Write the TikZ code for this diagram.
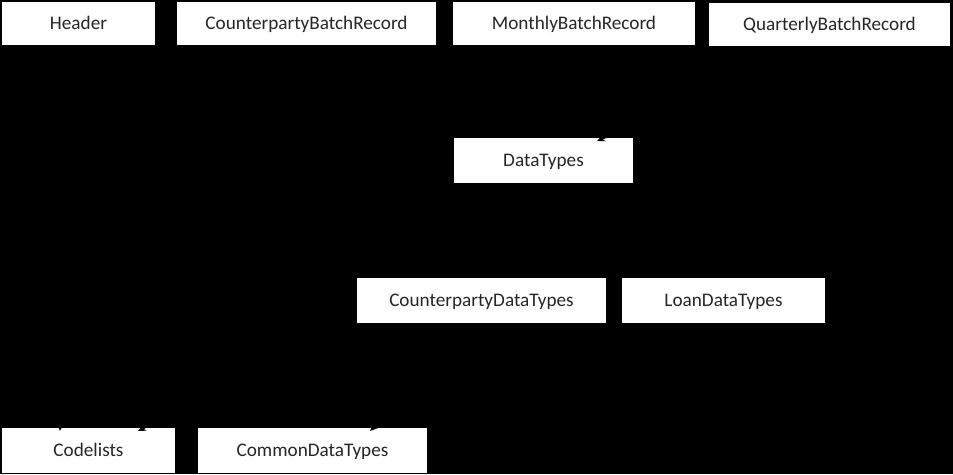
\documentclass[tikz,border=0pt]{standalone}
\usepackage{fontspec}
\setmainfont{Carlito}
\usetikzlibrary{arrows.meta}
\begin{document}
\begin{tikzpicture}[x=1pt,y=-1pt,
  box/.style={draw=none,fill=white,inner sep=0pt,font=\fontsize{19.2}{20}\selectfont,text=black!85,text height=12pt,text depth=0pt},
  hid/.style={draw=black,line width=1.5pt,shorten <=2pt,-{Stealth[length=8pt,width=7pt]}}]
\fill[black] (0,0) rectangle (953,474);
\useasboundingbox (0,0) rectangle (953,474);
\newcommand\bx[6]{\node[box,minimum width=#4-#2,minimum height=#5-#3] (#1) at ({(#2+#4)/2},{(#3+#5)/2}) {#6};}
\bx{header}{2}{2}{155}{45}{Header}
\bx{cbr}{177}{2}{436}{45}{CounterpartyBatchRecord}
\bx{mbr}{453}{2}{695}{45}{MonthlyBatchRecord}
\bx{qbr}{709}{3}{950}{46}{QuarterlyBatchRecord}
\bx{dt}{454}{138}{633}{183}{DataTypes}
\bx{cdt}{357}{278}{606}{323}{CounterpartyDataTypes}
\bx{ldt}{622}{278}{825}{323}{LoanDataTypes}
\bx{cl}{2}{428}{175}{473}{Codelists}
\bx{cmdt}{198}{428}{427}{473}{CommonDataTypes}
\coordinate (t1) at (597,141);
\coordinate (t2) at (60,431);
\coordinate (t3) at (138,431);
\coordinate (t4) at (370,431);
\draw[hid] (qbr.south) -- (t1);
\draw[hid] (header.south) -- (t2);
\draw[hid] (cdt.south west) -- (t3);
\draw[hid] (cdt.south) -- (t4);
\end{tikzpicture}
\end{document}
